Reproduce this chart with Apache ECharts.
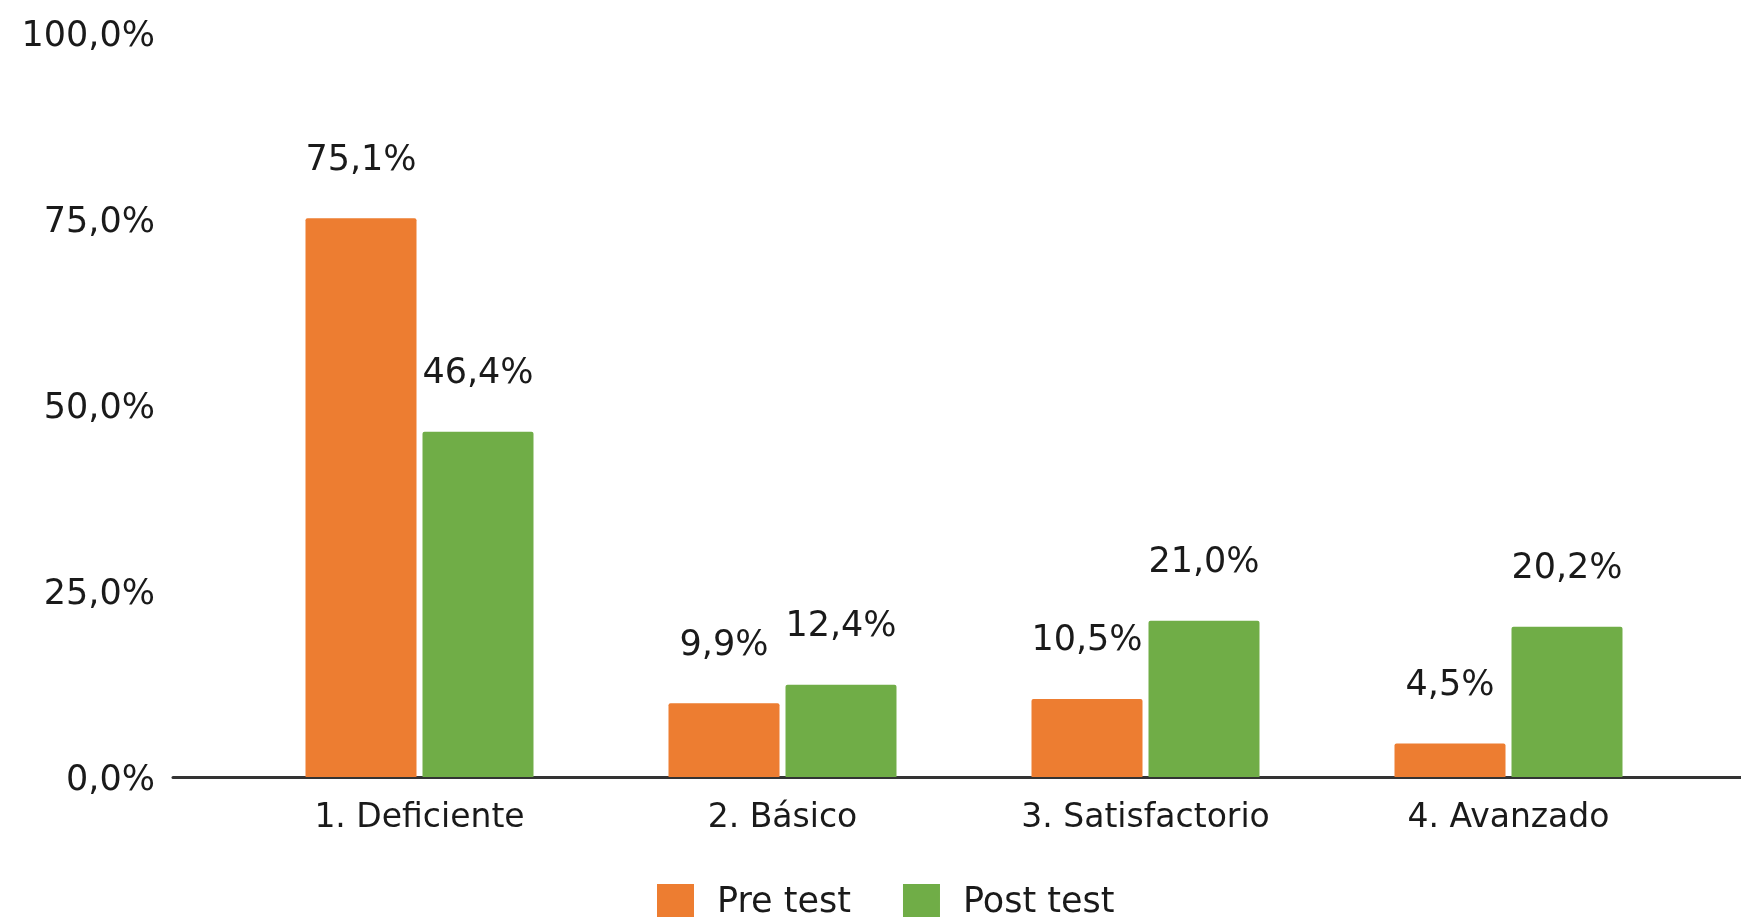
<!DOCTYPE html>
<html>
<head>
<meta charset="utf-8">
<script src="https://cdn.jsdelivr.net/npm/echarts@6/dist/echarts.min.js"></script>
<style>
  html, body { margin: 0; padding: 0; background: #fff; }
  #chart { width: 1741px; height: 917px; }
</style>
</head>
<body>
<div id="chart"></div>
<script>
const categories = ["1. Deficiente", "2. Básico", "3. Satisfactorio", "4. Avanzado"];
const seriesNames = ["Pre test", "Post test"];
const preTest = [75.1, 9.9, 10.5, 4.5];
const postTest = [46.4, 12.4, 21.0, 20.2];
const yTicks = [0, 25, 50, 75, 100];

const fmt = (v) => v.toFixed(1).replace(".", ",") + "%";
const FONT = "DejaVu Sans";

const chart = echarts.init(document.getElementById("chart"));
chart.setOption({
  animation: false,
  textStyle: { fontFamily: FONT },
  legend: {
    data: seriesNames,
    icon: "rect",
    left: 652,
    top: 879,
    itemWidth: 37,
    itemHeight: 37,
    itemGap: 52,
    textStyle: {
      fontFamily: FONT,
      fontSize: 35,
      color: "#1a1a1a",
      padding: [0, 0, 0, 18],
    },
  },
  grid: [
    // bars
    { left: 238, right: 51, top: 33, bottom: 140 },
    // baseline + y labels
    { left: 173, right: 0, top: 33, bottom: 140 },
  ],
  xAxis: [
    {
      type: "category",
      gridIndex: 0,
      data: categories,
      axisLine: { show: false },
      axisTick: { show: false },
      axisLabel: {
        fontFamily: FONT,
        fontSize: 33,
        color: "#1a1a1a",
        margin: 25,
        interval: 0,
      },
    },
    {
      type: "category",
      gridIndex: 1,
      data: categories,
      axisLine: { show: true, lineStyle: { color: "#333", width: 3 } },
      axisTick: { show: false },
      axisLabel: { show: false },
    },
  ],
  yAxis: [
    {
      type: "value",
      gridIndex: 0,
      min: yTicks[0],
      max: yTicks[yTicks.length - 1],
      interval: 25,
      show: false,
      splitLine: { show: false },
    },
    {
      type: "value",
      gridIndex: 1,
      min: yTicks[0],
      max: yTicks[yTicks.length - 1],
      interval: 25,
      axisLine: { show: false },
      axisTick: { show: false },
      splitLine: { show: false },
      axisLabel: {
        fontFamily: FONT,
        fontSize: 35,
        color: "#1a1a1a",
        margin: 18,
        formatter: (v) => "{t|" + fmt(v) + "}",
        rich: {
          t: {
            fontFamily: FONT,
            fontSize: 35,
            color: "#1a1a1a",
            padding: [8, 0, 0, 0],
          },
        },
      },
    },
  ],
  series: [
    {
      name: seriesNames[0],
      type: "bar",
      xAxisIndex: 0,
      yAxisIndex: 0,
      data: preTest,
      barWidth: 111,
      barGap: "5.4%",
      itemStyle: { color: "#ED7D31", borderRadius: [2, 2, 0, 0] },
      label: {
        show: true,
        position: "top",
        distance: 40,
        fontFamily: FONT,
        fontSize: 35,
        color: "#1a1a1a",
        formatter: (p) => fmt(p.value),
      },
    },
    {
      name: seriesNames[1],
      type: "bar",
      xAxisIndex: 0,
      yAxisIndex: 0,
      data: postTest,
      barWidth: 111,
      barGap: "5.4%",
      itemStyle: { color: "#70AD47", borderRadius: [2, 2, 0, 0] },
      label: {
        show: true,
        position: "top",
        distance: 40,
        fontFamily: FONT,
        fontSize: 35,
        color: "#1a1a1a",
        formatter: (p) => fmt(p.value),
      },
    },
  ],
});
</script>
</body>
</html>
